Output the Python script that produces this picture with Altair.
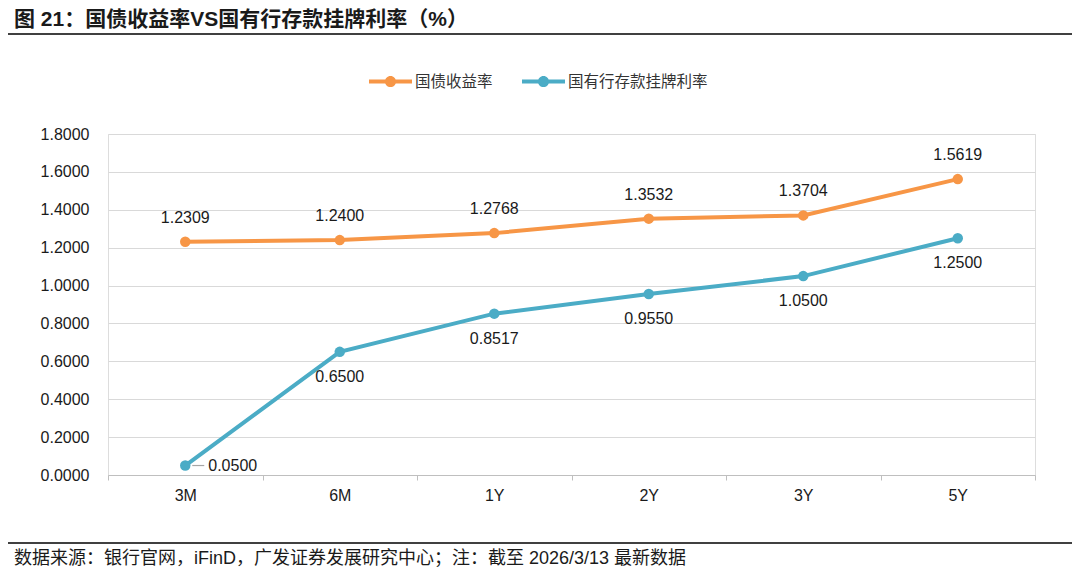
import altair as alt
import pandas as pd

categories = ["3M", "6M", "1Y", "2Y", "3Y", "5Y"]
gov_yield = [1.2309, 1.2400, 1.2768, 1.3532, 1.3704, 1.5619]
deposit_rate = [0.0500, 0.6500, 0.8517, 0.9550, 1.0500, 1.2500]
series_names = ["国债收益率", "国有行存款挂牌利率"]
colors = ["#F79646", "#4BACC6"]

title_text = "图 21：国债收益率VS国有行存款挂牌利率（%）"
source_text = "数据来源：银行官网，iFinD，广发证券发展研究中心；注：截至 2026/3/13 最新数据"

rows = []
for c, v in zip(categories, gov_yield):
    rows.append({"cat": c, "val": v, "series": series_names[0]})
for c, v in zip(categories, deposit_rate):
    rows.append({"cat": c, "val": v, "series": series_names[1]})
df = pd.DataFrame(rows)

W, H = 927, 341
NUM_FONT = "Liberation Sans, Arial, sans-serif"
CJK_FONT = "'Liberation Sans', 'Noto Sans CJK SC', sans-serif"

x_enc = alt.X("cat:N", sort=categories, bandPosition=0.5,
              scale=alt.Scale(type="band", paddingInner=0, paddingOuter=0),
              axis=alt.Axis(title=None, labelAngle=0, tickBand="extent",
                            domainColor="#BFBFBF", tickColor="#BFBFBF", tickSize=5,
                            labelFont=NUM_FONT, labelFontSize=16, labelColor="#1a1a1a",
                            labelPadding=7, grid=False))
y_enc = alt.Y("val:Q", scale=alt.Scale(domain=[0, 1.8], nice=False),
              axis=alt.Axis(title=None, format=".4f", values=[0, 0.2, 0.4, 0.6, 0.8, 1.0, 1.2, 1.4, 1.6, 1.8],
                            domain=False, ticks=False, gridColor="#D9D9D9", gridWidth=1,
                            labelFont=NUM_FONT, labelFontSize=16, labelColor="#1a1a1a",
                            labelPadding=19))
color_scale = alt.Scale(domain=series_names, range=colors)

base = alt.Chart(df)

sym_path = ("M-1,-0.095 L1,-0.095 L1,0.095 L-1,0.095 Z "
            "M0.26,0 A0.26,0.26 0 1,1 -0.26,0 A0.26,0.26 0 1,1 0.26,0 Z")

line_layers = [
    base.transform_filter(alt.datum.series == s).mark_line(strokeWidth=4, color=col).encode(
        x=x_enc, y=y_enc)
    for s, col in zip(series_names, colors)
]

points = base.mark_circle(size=110, opacity=1).encode(
    x=x_enc, y=y_enc,
    color=alt.Color("series:N", scale=color_scale,
                    legend=alt.Legend(title=None, orient="none", direction="horizontal",
                                      legendX=261, legendY=-74, symbolType=sym_path,
                                      symbolSize=1849, symbolStrokeWidth=0, symbolOpacity=1,
                                      labelFont=CJK_FONT, labelFontSize=15.5, labelColor="#333333",
                                      labelOffset=3, columnPadding=29, padding=0)),
)

gov_labels = base.transform_filter(alt.datum.series == series_names[0]).mark_text(
    dy=-24, font=NUM_FONT, fontSize=16, color="#1a1a1a"
).encode(x=x_enc, y=y_enc, text=alt.Text("val:Q", format=".4f"))

dep_labels = base.transform_filter(
    (alt.datum.series == series_names[1]) & (alt.datum.cat != categories[0])
).mark_text(dy=25, font=NUM_FONT, fontSize=16, color="#1a1a1a").encode(
    x=x_enc, y=y_enc, text=alt.Text("val:Q", format=".4f"))

dep_first = base.transform_filter(
    (alt.datum.series == series_names[1]) & (alt.datum.cat == categories[0])
)
dep_first_label = dep_first.mark_text(dx=23, align="left", font=NUM_FONT, fontSize=16,
                                      color="#1a1a1a").encode(
    x=x_enc, y=y_enc, text=alt.Text("val:Q", format=".4f"))
leader = dep_first.mark_rule(color="#A6A6A6", strokeWidth=1.2, xOffset=7, x2Offset=19).encode(
    x=x_enc, x2="cat:N", y=y_enc)

deco = pd.DataFrame({"t": [title_text], "s": [source_text]})
title_mark = alt.Chart(deco).mark_text(align="left", baseline="middle", font=CJK_FONT,
                                       fontSize=21, fontWeight="bold", color="#1a1a1a").encode(
    x=alt.value(-94), y=alt.value(-114), text="t:N")
title_rule = alt.Chart(deco).mark_rule(color="#404040", strokeWidth=2).encode(
    x=alt.value(-108), x2=alt.value(972), y=alt.value(-100))
foot_rule = alt.Chart(deco).mark_rule(color="#404040", strokeWidth=2).encode(
    x=alt.value(-108), x2=alt.value(972), y=alt.value(409))
foot_mark = alt.Chart(deco).mark_text(align="left", baseline="middle", font=CJK_FONT,
                                      fontSize=18, color="#1a1a1a").encode(
    x=alt.value(-94), y=alt.value(425), text="s:N")

chart = alt.layer(
    *line_layers, points, gov_labels, dep_labels, leader, dep_first_label,
    title_mark, title_rule, foot_rule, foot_mark
).properties(
    width=W, height=H,
    autosize=alt.AutoSizeParams(type="none"),
    padding={"left": 100, "top": 126, "right": 37, "bottom": 92},
).configure_view(stroke=None).configure(background="white")

chart.save("out.html", embed_options={"renderer": "svg", "actions": False})
